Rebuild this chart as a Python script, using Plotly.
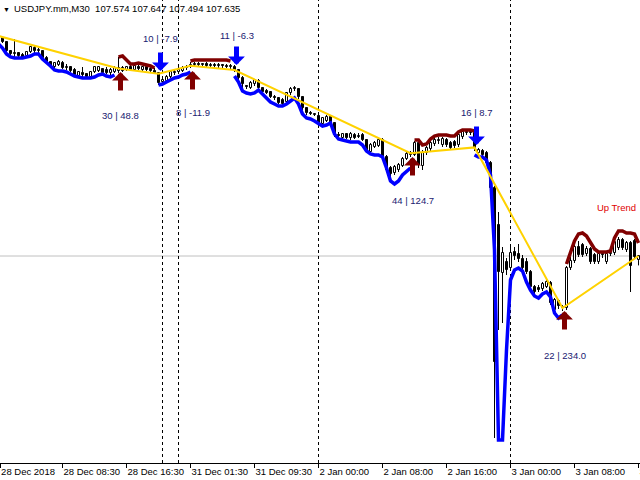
import plotly.graph_objects as go

# ---------------- data (USDJPY M30, bar index 0..160) ----------------
open_ = [
    110.92, 110.905, 110.845, 110.71, 110.665, 110.68, 110.65, 110.635, 110.695, 110.755,
    110.71, 110.71, 110.605, 110.545, 110.47, 110.5, 110.53, 110.455, 110.47, 110.425,
    110.335, 110.38, 110.365, 110.32, 110.395, 110.41, 110.44, 110.425, 110.38, 110.395,
    110.41, 110.455, 110.425, 110.47, 110.425, 110.47, 110.425, 110.47, 110.44, 110.41,
    110.38, 110.245, 110.26, 110.32, 110.38, 110.395, 110.41, 110.455, 110.47, 110.5,
    110.515, 110.5, 110.515, 110.485, 110.5, 110.485, 110.5, 110.485, 110.47, 110.47,
    110.425, 110.305, 110.185, 110.155, 110.215, 110.26, 110.155, 110.11, 110.095, 110.02,
    110.005, 109.975, 109.945, 110.08, 110.14, 110.14, 110.02, 109.855, 109.78, 109.75,
    109.735, 109.615, 109.66, 109.72, 109.63, 109.45, 109.405, 109.465, 109.405, 109.45,
    109.42, 109.45, 109.375, 109.195, 109.27, 109.285, 109.375, 109.12, 108.955, 108.88,
    108.925, 108.985, 109.09, 109.15, 109.15, 109.33, 108.985, 109.18, 109.24, 109.315,
    109.36, 109.3, 109.375, 109.33, 109.345, 109.3, 109.42, 109.48, 109.495, 109.48,
    109.18, 109.21, 109.18, 109.03, 108.655, 108.1, 107.38, 107.545, 107.455, 107.695,
    107.665, 107.59, 107.545, 107.395, 107.17, 107.155, 107.14, 107.17, 107.23, 106.825,
    106.96, 106.87, 106.855, 107.455, 107.56, 107.77, 107.8, 107.665, 107.74, 107.65,
    107.545, 107.665, 107.545, 107.665, 107.68, 107.755, 107.875, 107.725, 107.83, 107.86,
    107.574,
]
high = [
    110.965, 110.92, 110.86, 110.725, 110.89, 110.695, 110.68, 110.71, 110.785, 110.785,
    110.755, 110.725, 110.635, 110.56, 110.545, 110.575, 110.56, 110.515, 110.485, 110.455,
    110.41, 110.47, 110.38, 110.41, 110.485, 110.485, 110.455, 110.47, 110.455, 110.485,
    110.62, 110.485, 110.485, 110.5, 110.515, 110.5, 110.485, 110.485, 110.47, 110.455,
    110.395, 110.305, 110.35, 110.425, 110.44, 110.47, 110.485, 110.5, 110.545, 110.545,
    110.545, 110.53, 110.545, 110.53, 110.53, 110.53, 110.515, 110.515, 110.515, 110.5,
    110.44, 110.335, 110.2, 110.26, 110.29, 110.29, 110.17, 110.14, 110.11, 110.05,
    110.02, 110.005, 110.095, 110.17, 110.185, 110.155, 110.035, 109.87, 109.81, 109.78,
    109.765, 109.72, 109.75, 109.75, 109.645, 109.495, 109.48, 109.48, 109.495, 109.48,
    109.48, 109.48, 109.39, 109.33, 109.36, 109.405, 109.405, 109.15, 108.985, 109.0,
    109.03, 109.12, 109.195, 109.21, 109.36, 109.345, 109.225, 109.285, 109.375, 109.405,
    109.42, 109.42, 109.405, 109.36, 109.375, 109.48, 109.51, 109.51, 109.51, 109.51,
    109.255, 109.24, 109.21, 109.06, 108.685, 108.295, 107.77, 107.605, 107.8, 107.77,
    107.815, 107.65, 107.605, 107.425, 107.2, 107.2, 107.245, 107.29, 107.26, 107.005,
    106.99, 106.9, 107.485, 107.62, 107.845, 107.86, 107.83, 107.785, 107.77, 107.68,
    107.665, 107.68, 107.68, 107.695, 107.875, 107.92, 107.905, 107.86, 107.86, 107.89,
    107.647,
]
low = [
    110.875, 110.83, 110.695, 110.635, 110.62, 110.62, 110.59, 110.62, 110.68, 110.68,
    110.665, 110.59, 110.53, 110.47, 110.455, 110.485, 110.44, 110.425, 110.395, 110.335,
    110.32, 110.32, 110.305, 110.305, 110.38, 110.395, 110.365, 110.365, 110.35, 110.38,
    110.38, 110.395, 110.41, 110.41, 110.41, 110.425, 110.41, 110.41, 110.395, 110.365,
    110.2, 110.215, 110.245, 110.305, 110.35, 110.365, 110.395, 110.425, 110.455, 110.47,
    110.47, 110.47, 110.47, 110.455, 110.455, 110.455, 110.455, 110.455, 110.44, 110.395,
    110.275, 110.155, 110.14, 110.14, 110.185, 110.14, 110.08, 110.065, 110.005, 109.975,
    109.915, 109.9, 109.915, 110.05, 110.11, 109.99, 109.825, 109.75, 109.75, 109.735,
    109.555, 109.585, 109.645, 109.585, 109.42, 109.405, 109.39, 109.39, 109.375, 109.39,
    109.405, 109.36, 109.18, 109.165, 109.255, 109.27, 109.105, 108.895, 108.775, 108.85,
    108.895, 108.97, 109.075, 109.12, 109.135, 108.955, 108.925, 109.15, 109.21, 109.285,
    109.315, 109.27, 109.27, 109.225, 109.255, 109.27, 109.39, 109.45, 109.45, 109.21,
    109.15, 109.12, 109.0, 108.55, 104.905, 106.525, 106.63, 107.35, 107.41, 107.575,
    107.545, 107.425, 107.365, 107.14, 107.065, 107.095, 107.11, 107.155, 106.9, 106.795,
    106.84, 106.81, 106.825, 107.425, 107.53, 107.62, 107.62, 107.635, 107.515, 107.515,
    107.515, 107.605, 107.515, 107.635, 107.65, 107.725, 107.725, 107.695, 107.095, 107.59,
    107.494,
]
close = [
    110.935, 110.845, 110.71, 110.665, 110.68, 110.635, 110.605, 110.695, 110.77, 110.71,
    110.725, 110.605, 110.545, 110.485, 110.53, 110.545, 110.455, 110.47, 110.41, 110.35,
    110.395, 110.35, 110.32, 110.395, 110.47, 110.47, 110.38, 110.38, 110.425, 110.455,
    110.455, 110.41, 110.47, 110.425, 110.485, 110.44, 110.47, 110.425, 110.41, 110.38,
    110.23, 110.275, 110.32, 110.395, 110.395, 110.425, 110.455, 110.47, 110.5, 110.515,
    110.5, 110.515, 110.485, 110.5, 110.485, 110.5, 110.485, 110.47, 110.485, 110.425,
    110.305, 110.215, 110.17, 110.23, 110.275, 110.155, 110.095, 110.08, 110.02, 110.005,
    109.93, 109.915, 110.08, 110.14, 110.155, 110.02, 109.855, 109.78, 109.765, 109.765,
    109.615, 109.705, 109.72, 109.615, 109.45, 109.435, 109.465, 109.405, 109.465, 109.405,
    109.435, 109.375, 109.195, 109.3, 109.33, 109.375, 109.12, 108.925, 108.865, 108.97,
    109.0, 109.09, 109.165, 109.18, 109.33, 109.0, 109.18, 109.255, 109.33, 109.375,
    109.375, 109.39, 109.3, 109.255, 109.285, 109.45, 109.495, 109.495, 109.48, 109.255,
    109.225, 109.15, 109.03, 108.655, 106.045, 107.395, 107.68, 107.425, 107.68, 107.635,
    107.59, 107.455, 107.395, 107.17, 107.095, 107.125, 107.215, 107.245, 106.93, 106.975,
    106.885, 106.855, 107.455, 107.56, 107.77, 107.65, 107.65, 107.74, 107.545, 107.545,
    107.665, 107.65, 107.665, 107.68, 107.845, 107.875, 107.755, 107.83, 107.485, 107.62,
    107.635,
]
bar_index = list(range(len(close)))

# trend lines: (first bar, values)
blue_segments = [
    (0, [110.815, 110.755, 110.665, 110.62, 110.605, 110.605, 110.605, 110.62, 110.635, 110.665,
         110.665, 110.59, 110.545, 110.485, 110.425, 110.41, 110.41, 110.395, 110.365, 110.335,
         110.32, 110.305, 110.305, 110.305, 110.32, 110.35, 110.365, 110.335, 110.32, 110.35]),
    (40, [110.2, 110.215, 110.245, 110.275, 110.305, 110.32, 110.35, 110.365, 110.395]),
    (59, [110.335, 110.245, 110.11, 110.08, 110.065, 110.08, 110.125, 110.065, 110.02, 109.945,
          109.915, 109.885, 109.885, 109.915, 109.96, 110.005, 109.915, 109.765, 109.705, 109.69,
          109.66, 109.615, 109.585, 109.6, 109.63, 109.465, 109.39, 109.375, 109.36, 109.345,
          109.345, 109.345, 109.3, 109.21, 109.165, 109.15, 109.15, 109.12, 108.955, 108.76,
          108.715, 108.76, 108.85, 108.91, 108.955]),
    (119, [109.15, 109.12, 109.12, 109.075, 108.85, 107.725, 104.875, 104.875, 106.225, 107.275,
           107.425, 107.455, 107.41, 107.245, 107.125, 107.035, 107.005, 107.065, 107.095, 107.02,
           106.78, 106.705, 106.75]),
]
maroon_segments = [
    (30, [110.62, 110.635, 110.575, 110.515, 110.515, 110.53, 110.515, 110.5, 110.485, 110.455]),
    (48, [110.56, 110.575, 110.575, 110.575, 110.575, 110.575, 110.575, 110.575, 110.575, 110.575,
          110.56]),
    (104, [109.375, 109.375, 109.3, 109.315, 109.39, 109.435, 109.45, 109.45, 109.45, 109.435,
           109.435, 109.495, 109.525, 109.525, 109.525, 109.51]),
    (142, [107.515, 107.695, 107.86, 107.965, 107.98, 107.935, 107.83, 107.74, 107.695, 107.695,
           107.695, 107.71, 107.905, 108.01, 108.01, 107.98, 107.98, 107.965, 107.83]),
]

zigzag_bars = [0, 30, 40, 48, 59, 103, 119, 141, 160]
zigzag_prices = [110.935, 110.447, 110.368, 110.487, 110.424, 109.177, 109.264, 106.855, 107.635]

# signals: bar, direction, arrow price, label (bars | pips)
signal_bars = [0, 30, 40, 48, 59, 103, 119, 141]
signal_dirs = ["down", "up", "down", "up", "down", "up", "down", "up"]
arrow_prices = [111.025, 110.395, 110.41, 110.41, 110.5, 109.12, 109.3, 106.81]
label_bars = [30, 40, 48, 59, 103, 119, 141]
label_prices = [110.447, 110.368, 110.487, 110.424, 109.177, 109.264, 106.855]
label_dirs = ["up", "down", "up", "down", "up", "down", "up"]
label_counts = [30, 10, 8, 11, 44, 16, 22]
label_pips = [48.8, -7.9, -11.9, -6.3, 124.7, 8.7, 234.0]

tick_vals = [0.4, 16, 32, 48, 64, 80, 96, 112, 128, 144, 160]
tick_text = ["28 Dec 2018", "28 Dec 08:30", "28 Dec 16:30", "31 Dec 01:30", "31 Dec 09:30",
             "2 Jan 00:00", "2 Jan 08:00", "2 Jan 16:00", "3 Jan 00:00", "3 Jan 08:00", "3 Jan 16:00"]
day_separators = [41, 45, 80, 128]

symbol = "USDJPY.mm,M30"
FONT = "Liberation Sans"

# ---------------- figure ----------------
fig = go.Figure()

# wicks (split so they never cross the hollow bodies)
wx, wy = [], []
for i, o, h, l, c in zip(bar_index, open_, high, low, close):
    top, bot = max(o, c), min(o, c)
    wx += [i, i, None, i, i, None]
    wy += [top, h, None, bot, l, None]
fig.add_trace(go.Scatter(x=wx, y=wy, mode="lines", line=dict(color="black", width=1),
                         hoverinfo="skip"))

# bodies
fig.add_trace(go.Bar(
    x=bar_index,
    base=[min(o, c) for o, c in zip(open_, close)],
    y=[abs(c - o) for o, c in zip(open_, close)],
    width=0.5,
    marker=dict(color=["white" if c >= o else "black" for o, c in zip(open_, close)],
                line=dict(color="black", width=1)),
    hoverinfo="skip",
))


def seg_xy(segments):
    xs, ys = [], []
    for start, vals in segments:
        xs += list(range(start, start + len(vals))) + [None]
        ys += vals + [None]
    return xs, ys


bx, by = seg_xy(blue_segments)
fig.add_trace(go.Scatter(x=bx, y=by, mode="lines", line=dict(color="#0000ff", width=3.5),
                         connectgaps=False, hoverinfo="skip"))
mx, my = seg_xy(maroon_segments)
fig.add_trace(go.Scatter(x=mx, y=my, mode="lines", line=dict(color="#800000", width=3.5),
                         connectgaps=False, hoverinfo="skip"))
fig.add_trace(go.Scatter(x=zigzag_bars, y=zigzag_prices, mode="lines",
                         line=dict(color="#ffd200", width=2), hoverinfo="skip"))

# arrows
for b, d, p in zip(signal_bars, signal_dirs, arrow_prices):
    up = d == "up"
    fig.add_annotation(x=b, y=p, xref="x", yref="y", text="", showarrow=True,
                       arrowhead=1, arrowsize=0.56, arrowwidth=5,
                       arrowcolor="#800000" if up else "#0000ff",
                       ax=0, ay=20 if up else -20, standoff=0, startstandoff=0, xshift=2)

# labels
for b, p, d, n, pip in zip(label_bars, label_prices, label_dirs, label_counts, label_pips):
    fig.add_annotation(x=b, y=p, xref="x", yref="y", text=f"{n} | {pip:.1f}", showarrow=False,
                       font=dict(family=FONT, size=9.5, color="#191970"),
                       xanchor="center", yanchor="middle", xshift=2,
                       yshift=-47 if d == "up" else 35)

fig.add_annotation(x=0.964, y=0.551, xref="paper", yref="paper", text="Up Trend",
                   showarrow=False, font=dict(family=FONT, size=9.5, color="#e00000"),
                   xanchor="center", yanchor="middle")

# header
fig.add_annotation(x=0, y=1, xref="paper", yref="paper", text="\u25bc", showarrow=False,
                   font=dict(family=FONT, size=7, color="black"),
                   xanchor="left", yanchor="top", xshift=1, yshift=-4)
header = symbol + "\u00a0\u00a0" + "\u00a0".join(
    f"{v:.3f}" for v in (open_[-1], high[-1], low[-1], close[-1]))
fig.add_annotation(x=0, y=1, xref="paper", yref="paper", text=header, showarrow=False,
                   font=dict(family=FONT, size=9.5, color="black"),
                   xanchor="left", yanchor="top", xshift=12, yshift=-1)

# bid line and day separators
fig.add_shape(type="line", xref="paper", x0=0, x1=1, yref="y", y0=close[-1], y1=close[-1],
              line=dict(color="#c0c0c0", width=1), layer="below")
for s in day_separators:
    fig.add_shape(type="line", xref="x", x0=s, x1=s, yref="paper", y0=0, y1=1,
                  line=dict(color="black", width=1, dash="3px,3px"), layer="below")

fig.update_layout(
    width=640, height=480,
    margin=dict(l=0, r=0, t=0, b=17, pad=0, autoexpand=False),
    paper_bgcolor="white", plot_bgcolor="white",
    showlegend=False, hovermode=False, bargap=0,
    xaxis=dict(range=[0.375, 160.375], showgrid=False, zeroline=False,
               showline=True, linecolor="black", linewidth=1,
               ticks="outside", ticklen=4, tickwidth=1, tickcolor="black",
               tickvals=tick_vals, ticktext=tick_text, tickangle=0, automargin=False,
               ticklabelposition="outside right", ticklabeloverflow="allow",
               tickfont=dict(family=FONT, size=9.5, color="black")),
    yaxis=dict(range=[104.53, 111.475], visible=False, fixedrange=True, automargin=False),
)

fig.write_html(
    "out.html",
    config={"displayModeBar": False},
    post_script="document.body.style.margin='0';document.body.style.padding='0';"
                "document.body.style.overflow='hidden';",
)
